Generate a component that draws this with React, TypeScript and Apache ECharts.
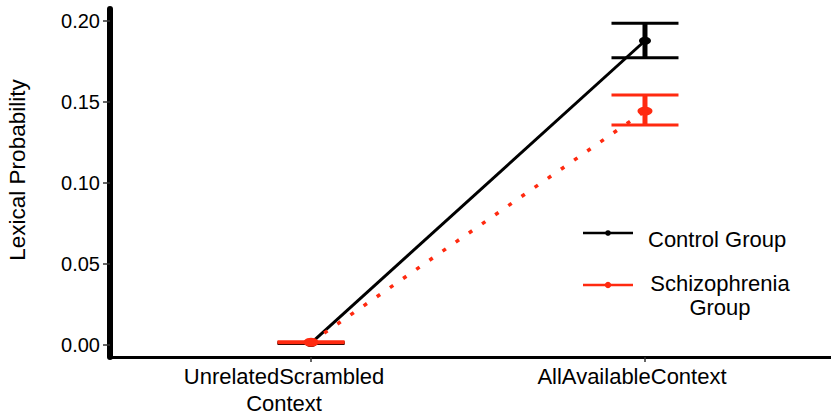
import React, { useEffect, useRef } from "react";
import * as echarts from "echarts";

const categories = ["UnrelatedScrambled\nContext", "AllAvailableContext"];
const categoryPositions = [1, 2];
const controlMeans = [0.0012, 0.1878];
const controlLow = [0.0009, 0.1773];
const controlHigh = [0.0015, 0.1986];
const schizMeans = [0.0017, 0.1444];
const schizLow = [0.0014, 0.1358];
const schizHigh = [0.002, 0.1543];
const yTicks = [0, 0.05, 0.1, 0.15, 0.2];

const FONT = "Liberation Sans, Arial, Helvetica, sans-serif";

function errorBarSeries(name: string, color: string, low: number[], high: number[], z: number) {
  return {
    type: "custom",
    name,
    z,
    silent: true,
    data: categoryPositions.map((x, i) => [x, low[i], high[i]]),
    encode: { x: 0, y: [1, 2] },
    renderItem: (params: any, api: any) => {
      const x = api.value(0);
      const pLo = api.coord([x, api.value(1)]);
      const pHi = api.coord([x, api.value(2)]);
      const hw = 33.5;
      return {
        type: "group",
        children: [
          { type: "line", shape: { x1: pLo[0], y1: pLo[1], x2: pHi[0], y2: pHi[1] }, style: { stroke: color, lineWidth: 5 } },
          { type: "line", shape: { x1: pHi[0] - hw, y1: pHi[1], x2: pHi[0] + hw, y2: pHi[1] }, style: { stroke: color, lineWidth: 3 } },
          { type: "line", shape: { x1: pLo[0] - hw, y1: pLo[1], x2: pLo[0] + hw, y2: pLo[1] }, style: { stroke: color, lineWidth: 3 } },
        ],
      };
    },
  };
}

export default function App() {
  const ref = useRef<HTMLDivElement>(null);
  useEffect(() => {
    if (!ref.current) return;
    const chart = echarts.init(ref.current, null, { renderer: "svg" });
    const labelPad: Record<number, number[]> = { 1: [0, 54, 0, 0], 2: [0, 26, 0, 0] };
    chart.setOption({
      animation: false,
      backgroundColor: "#ffffff",
      textStyle: { fontFamily: FONT },
      grid: { left: 110, right: 0, top: 9, bottom: 60, containLabel: false, outerBoundsMode: "none" },
      xAxis: {
        type: "value",
        min: 0.398,
        max: 2.557,
        splitLine: { show: false },
        axisLine: { show: true, onZero: false, lineStyle: { color: "#000", width: 3 } },
        axisTick: { show: true, customValues: categoryPositions, length: 5, lineStyle: { color: "#333", width: 1.5 } },
        axisLabel: {
          customValues: categoryPositions,
          margin: 6,
          formatter: (v: number) => {
            const idx = categoryPositions.indexOf(Math.round(v));
            if (idx < 0) return "";
            const key = idx === 0 ? "a" : "b";
            return categories[idx].split("\n").map((s) => `{${key}|${s}}`).join("\n");
          },
          rich: {
            a: { fontSize: 22, lineHeight: 27, color: "#000", fontFamily: FONT, padding: labelPad[1], align: "center" },
            b: { fontSize: 22, lineHeight: 27, color: "#000", fontFamily: FONT, padding: labelPad[2], align: "center" },
          },
        },
      },
      yAxis: {
        type: "value",
        min: -0.0074,
        max: 0.2074,
        name: "Lexical Probability",
        nameLocation: "middle",
        nameGap: 81,
        nameRotate: 90,
        nameTextStyle: { fontSize: 22.5, color: "#000", fontFamily: FONT, padding: [0, 0, 0, 26] },
        splitLine: { show: false },
        axisLine: { show: true, onZero: false, lineStyle: { color: "#000", width: 6 } },
        axisTick: { show: true, customValues: yTicks, length: 7, lineStyle: { color: "#333", width: 1.5 } },
        axisLabel: {
          customValues: yTicks,
          margin: 10,
          fontSize: 20,
          color: "#000",
          fontFamily: FONT,
          formatter: (v: number) => v.toFixed(2),
        },
      },
      legend: { show: false },
      series: [
        errorBarSeries("Control Group error", "#000000", controlLow, controlHigh, 2),
        {
          type: "line",
          name: "Control Group",
          z: 3,
          data: categoryPositions.map((x, i) => [x, controlMeans[i]]),
          lineStyle: { color: "#000000", width: 3 },
          itemStyle: { color: "#000000" },
          symbol: "circle",
          symbolSize: [12, 8],
        },
        {
          type: "line",
          name: "Schizophrenia Group",
          z: 4,
          data: categoryPositions.map((x, i) => [x, schizMeans[i]]),
          lineStyle: { color: "#ff2a10", width: 3.5, type: [4, 12] },
          itemStyle: { color: "#ff2a10" },
          symbol: "circle",
          symbolSize: [15, 9],
        },
        errorBarSeries("Schizophrenia Group error", "#ff2a10", schizLow, schizHigh, 5),
      ],
      graphic: [
        { type: "line", shape: { x1: 583, y1: 233, x2: 633, y2: 233 }, style: { stroke: "#000", lineWidth: 2.5 }, z: 10 },
        { type: "circle", shape: { cx: 608, cy: 233, r: 2.8 }, style: { fill: "#000" }, z: 10 },
        { type: "text", x: 648, y: 239, style: { text: "Control Group", fontSize: 22, fontFamily: FONT, fill: "#000", textAlign: "left", textVerticalAlign: "middle" }, z: 10 },
        { type: "line", shape: { x1: 583, y1: 285, x2: 633, y2: 285 }, style: { stroke: "#ff2a10", lineWidth: 2.5 }, z: 10 },
        { type: "circle", shape: { cx: 608, cy: 285, r: 3.2 }, style: { fill: "#ff2a10" }, z: 10 },
        { type: "text", x: 720, y: 295, style: { text: "Schizophrenia\nGroup", fontSize: 22, lineHeight: 24, fontFamily: FONT, fill: "#000", textAlign: "center", textVerticalAlign: "middle" }, z: 10 },
      ],
    });
    return () => chart.dispose();
  }, []);
  return <div ref={ref} style={{ width: 831, height: 417, position: "absolute", left: 0, top: 0 }} />;
}
